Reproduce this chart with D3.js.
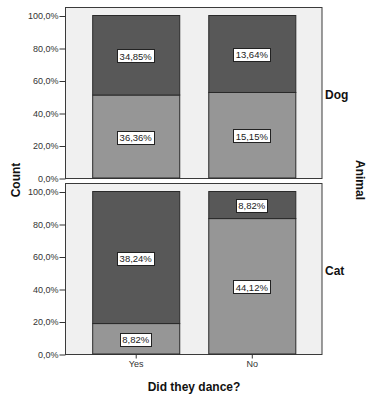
<!DOCTYPE html>
<html>
<head>
<meta charset="utf-8">
<script src="https://cdn.jsdelivr.net/npm/d3@7"></script>
<style>
  body { margin: 0; background: #fff; }
  text { font-family: Arial, "Liberation Sans", sans-serif; }
</style>
</head>
<body>
<script>
// categories and values (percent of panel total)
var dance = ["Yes", "No"];
var animals = ["Dog", "Cat"];
// per dance answer: [light (bottom), dark (top)]
var dogValues = [[36.36, 34.85], [15.15, 13.64]];
var catValues = [[8.82, 38.24], [44.12, 8.82]];
var yTicks = [0, 20, 40, 60, 80, 100];

var W = 368, H = 397;
var svg = d3.select("body").append("svg").attr("width", W).attr("height", H);

var loc = d3.formatLocale({decimal: ",", thousands: ".", grouping: [3], currency: ["", ""]});
var fmtLabel = loc.format(".2f");
var fmtTick = loc.format(".1f");

var x = d3.scaleBand().domain(dance).range([65.5, 322]).paddingInner(0.25).paddingOuter(0.23);

var panels = [
  {name: animals[0], values: dogValues, top: 7, bottom: 178, y: d3.scaleLinear([0, 100], [178, 15.5])},
  {name: animals[1], values: catValues, top: 183, bottom: 354, y: d3.scaleLinear([0, 100], [354, 191.5])}
];

var light = "#969696", dark = "#585858";

panels.forEach(function(p) {
  var g = svg.append("g");
  g.append("rect")
    .attr("x", 65.5).attr("y", p.top + 0.5)
    .attr("width", 322 - 65.5).attr("height", p.bottom - p.top)
    .attr("fill", "#f0f0f0").attr("stroke", "#3a3a3a").attr("stroke-width", 1);

  dance.forEach(function(d, di) {
    var v = p.values[di];
    var tot = v[0] + v[1];
    var segs = [
      {val: v[0], from: 0, to: v[0] / tot * 100, color: light},
      {val: v[1], from: v[0] / tot * 100, to: 100, color: dark}
    ];
    segs.forEach(function(s) {
      g.append("rect")
        .attr("x", x(d) + 0.5).attr("y", p.y(s.to))
        .attr("width", x.bandwidth()).attr("height", p.y(s.from) - p.y(s.to))
        .attr("fill", s.color).attr("stroke", "#2a2a2a").attr("stroke-width", 1);
    });
    segs.forEach(function(s) {
      var cy = (p.y(s.from) + p.y(s.to)) / 2 + 1;
      var cx = x(d) + x.bandwidth() / 2;
      var lg = g.append("g");
      var r = lg.append("rect");
      var t = lg.append("text")
        .attr("x", cx).attr("y", cy + 3.3)
        .attr("text-anchor", "middle")
        .attr("font-size", "9.5px")
        .attr("fill", "#222")
        .text(fmtLabel(s.val) + "%");
      var bb = t.node().getBBox();
      r.attr("x", Math.round(cx - bb.width / 2 - 2) + 0.5)
        .attr("y", Math.round(cy - 7) + 0.5)
        .attr("width", Math.round(bb.width + 4)).attr("height", 13)
        .attr("fill", "#fff").attr("stroke", "#222").attr("stroke-width", 1);
    });
  });

  var axis = d3.axisLeft(p.y).tickValues(yTicks).tickSize(6).tickPadding(1)
    .tickFormat(function(d) { return fmtTick(d) + "%"; });
  var ag = svg.append("g").attr("transform", "translate(65.5,0.5)").call(axis);
  ag.select(".domain").remove();
  ag.selectAll("text").attr("font-size", "9px").attr("fill", "#333").attr("font-family", "Arial, 'Liberation Sans', sans-serif");
  ag.selectAll("line").attr("stroke", "#333");

  svg.append("text")
    .attr("x", 325).attr("y", (p.top + p.bottom) / 2 + 6)
    .attr("font-size", "12px").attr("font-weight", "bold").attr("fill", "#111")
    .text(p.name);
});

var xa = d3.axisBottom(x).tickSize(4).tickPadding(2);
var xg = svg.append("g").attr("transform", "translate(0.5,354.5)").call(xa);
xg.select(".domain").remove();
xg.selectAll("text").attr("font-size", "9px").attr("fill", "#333").attr("font-family", "Arial, 'Liberation Sans', sans-serif");
xg.selectAll("line").attr("stroke", "#333");

svg.append("text")
  .attr("x", 194).attr("y", 391)
  .attr("text-anchor", "middle").attr("font-size", "12px").attr("font-weight", "bold").attr("fill", "#111")
  .text("Did they dance?");

svg.append("text")
  .attr("transform", "translate(20,180) rotate(-90)")
  .attr("text-anchor", "middle").attr("font-size", "12px").attr("font-weight", "bold").attr("fill", "#111")
  .text("Count");

svg.append("text")
  .attr("transform", "translate(356,180) rotate(90)")
  .attr("text-anchor", "middle").attr("font-size", "12px").attr("font-weight", "bold").attr("fill", "#111")
  .text("Animal");
</script>
</body>
</html>
